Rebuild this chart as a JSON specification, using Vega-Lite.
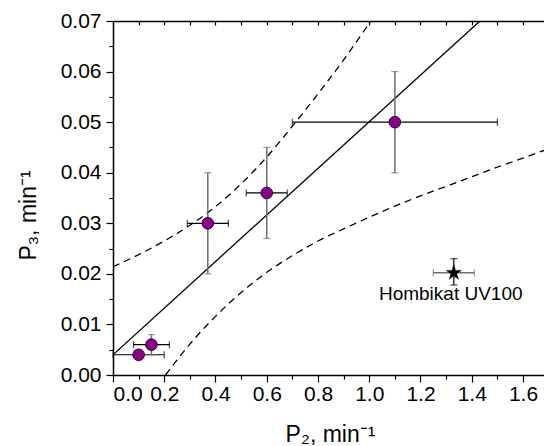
{
  "$schema": "https://vega.github.io/schema/vega-lite/v6.json",
  "width": 431,
  "height": 354,
  "autosize": {"type": "none"},
  "padding": {"left": 113, "top": 21, "right": 0, "bottom": 71},
  "background": "white",
  "config": {
    "view": {"stroke": null},
    "axis": {
      "grid": false,
      "domainColor": "black",
      "domainWidth": 1.5,
      "tickColor": "black",
      "tickWidth": 1.2,
      "labelFont": "Liberation Sans",
      "labelFontSize": 21,
      "labelColor": "black",
      "titleFont": "Liberation Sans",
      "titleFontSize": 23,
      "titleFontWeight": "normal",
      "titleColor": "black"
    }
  },
  "datasets": {
    "fit": [{"x": 0, "y": 0.004}, {"x": 1.432, "y": 0.07}],
    "upper": [
      {"x": 0.0, "y": 0.0214}, {"x": 0.1, "y": 0.0238}, {"x": 0.2, "y": 0.0265},
      {"x": 0.3, "y": 0.0296}, {"x": 0.4, "y": 0.0333}, {"x": 0.5, "y": 0.0378},
      {"x": 0.6, "y": 0.0431}, {"x": 0.7, "y": 0.0492}, {"x": 0.8, "y": 0.0556},
      {"x": 0.9, "y": 0.0623}, {"x": 1.0, "y": 0.0695}, {"x": 1.05, "y": 0.073}
    ],
    "lower": [
      {"x": 0.205, "y": 0.0}, {"x": 0.3, "y": 0.0061}, {"x": 0.4, "y": 0.0116},
      {"x": 0.5, "y": 0.0163}, {"x": 0.6, "y": 0.0203}, {"x": 0.7, "y": 0.0236},
      {"x": 0.8, "y": 0.0265}, {"x": 0.9, "y": 0.0289}, {"x": 1.0, "y": 0.0312},
      {"x": 1.1, "y": 0.0334}, {"x": 1.2, "y": 0.0354}, {"x": 1.3, "y": 0.0373},
      {"x": 1.4, "y": 0.0392}, {"x": 1.5, "y": 0.0411}, {"x": 1.6, "y": 0.0429},
      {"x": 1.682, "y": 0.0444}
    ],
    "pts": [
      {"x": 0.10, "y": 0.004, "xlo": 0.0, "xhi": 0.20, "ylo": 0.0032, "yhi": 0.0048},
      {"x": 0.15, "y": 0.006, "xlo": 0.08, "xhi": 0.22, "ylo": 0.004, "yhi": 0.008},
      {"x": 0.37, "y": 0.030, "xlo": 0.29, "xhi": 0.45, "ylo": 0.020, "yhi": 0.040},
      {"x": 0.60, "y": 0.036, "xlo": 0.52, "xhi": 0.68, "ylo": 0.027, "yhi": 0.045},
      {"x": 1.10, "y": 0.050, "xlo": 0.70, "xhi": 1.50, "ylo": 0.040, "yhi": 0.060}
    ],
    "star": [
      {"x": 1.33, "y": 0.0202, "xlo": 1.25, "xhi": 1.41, "ylo": 0.0178, "yhi": 0.023, "label": "Hombikat UV100", "ly": 0.0148, "lx": 1.318}
    ]
  },
  "resolve": {"axis": {"x": "independent", "y": "independent"}},
  "layer": [
    {
      "data": {"name": "fit"},
      "mark": {"type": "line", "color": "black", "strokeWidth": 1.3, "clip": true},
      "encoding": {
        "x": {"field": "x", "type": "quantitative", "scale": {"domain": [0, 1.682], "nice": false, "zero": false},
          "axis": {"orient": "bottom", "values": [0, 0.2, 0.4, 0.6, 0.8, 1.0, 1.2, 1.4, 1.6], "format": ".1f", "tickSize": 7, "labelPadding": 1,
            "title": "P₂, min⁻¹", "titleX": 217, "titleY": 66, "titleBaseline": "alphabetic", "titleAlign": "center"}},
        "y": {"field": "y", "type": "quantitative", "scale": {"domain": [0, 0.07], "nice": false, "zero": false},
          "axis": {"orient": "left", "values": [0, 0.01, 0.02, 0.03, 0.04, 0.05, 0.06, 0.07], "format": ".2f", "tickSize": 7, "labelPadding": 5,
            "title": "P₃, min⁻¹", "titleX": -78, "titleY": 194, "titleBaseline": "alphabetic", "titleAlign": "center", "titleAngle": -90}}
      }
    },
    {
      "data": {"name": "upper"},
      "mark": {"type": "line", "color": "black", "strokeWidth": 1.3, "strokeDash": [7, 5], "interpolate": "monotone", "clip": true},
      "encoding": {
        "x": {"field": "x", "type": "quantitative", "scale": {"domain": [0, 1.682], "nice": false, "zero": false},
          "axis": {"orient": "bottom", "values": [0.1, 0.3, 0.5, 0.7, 0.9, 1.1, 1.3, 1.5], "labels": false, "domain": false, "tickSize": 4, "title": null}},
        "y": {"field": "y", "type": "quantitative", "scale": {"domain": [0, 0.07], "nice": false, "zero": false},
          "axis": {"orient": "left", "values": [0.005, 0.015, 0.025, 0.035, 0.045, 0.055, 0.065], "labels": false, "domain": false, "tickSize": 4, "title": null}}
      }
    },
    {
      "data": {"name": "lower"},
      "mark": {"type": "line", "color": "black", "strokeWidth": 1.3, "strokeDash": [7, 5], "interpolate": "monotone", "clip": true},
      "encoding": {
        "x": {"field": "x", "type": "quantitative", "scale": {"domain": [0, 1.682], "nice": false, "zero": false},
          "axis": {"orient": "top", "values": [0.1, 0.2, 0.3, 0.4, 0.5, 0.6, 0.7, 0.8, 0.9, 1.0, 1.1, 1.2, 1.3, 1.4, 1.5, 1.6], "labels": false, "domain": true, "tickSize": -4, "title": null}},
        "y": {"field": "y", "type": "quantitative", "scale": {"domain": [0, 0.07], "nice": false, "zero": false}, "axis": null}
      }
    },
    {
      "data": {"name": "pts"},
      "mark": {"type": "errorbar", "ticks": {"size": 7, "color": "black", "thickness": 1.2}, "rule": {"color": "black", "strokeWidth": 1.2}},
      "encoding": {
        "x": {"field": "xlo", "type": "quantitative", "scale": {"domain": [0, 1.682], "nice": false, "zero": false}, "axis": null},
        "x2": {"field": "xhi"},
        "y": {"field": "y", "type": "quantitative", "scale": {"domain": [0, 0.07], "nice": false, "zero": false}, "axis": null}
      }
    },
    {
      "data": {"name": "pts"},
      "mark": {"type": "errorbar", "ticks": {"size": 7, "color": "#6e6e6e", "thickness": 1.2}, "rule": {"color": "#6e6e6e", "strokeWidth": 1.5}},
      "encoding": {
        "y": {"field": "ylo", "type": "quantitative", "scale": {"domain": [0, 0.07], "nice": false, "zero": false}, "axis": null},
        "y2": {"field": "yhi"},
        "x": {"field": "x", "type": "quantitative", "scale": {"domain": [0, 1.682], "nice": false, "zero": false}, "axis": null}
      }
    },
    {
      "data": {"name": "star"},
      "mark": {"type": "errorbar", "ticks": {"size": 7, "color": "#6e6e6e", "thickness": 1.2}, "rule": {"color": "#6e6e6e", "strokeWidth": 1.5}},
      "encoding": {
        "x": {"field": "xlo", "type": "quantitative", "scale": {"domain": [0, 1.682], "nice": false, "zero": false}, "axis": null},
        "x2": {"field": "xhi"},
        "y": {"field": "y", "type": "quantitative", "scale": {"domain": [0, 0.07], "nice": false, "zero": false}, "axis": null}
      }
    },
    {
      "data": {"name": "star"},
      "mark": {"type": "errorbar", "ticks": {"size": 7, "color": "black", "thickness": 1.2}, "rule": {"color": "black", "strokeWidth": 1.2}},
      "encoding": {
        "y": {"field": "ylo", "type": "quantitative", "scale": {"domain": [0, 0.07], "nice": false, "zero": false}, "axis": null},
        "y2": {"field": "yhi"},
        "x": {"field": "x", "type": "quantitative", "scale": {"domain": [0, 1.682], "nice": false, "zero": false}, "axis": null}
      }
    },
    {
      "data": {"name": "pts"},
      "mark": {"type": "point", "shape": "circle", "filled": true, "fill": "#8b008b", "stroke": "#2a002a", "strokeWidth": 1, "size": 135, "opacity": 1},
      "encoding": {
        "x": {"field": "x", "type": "quantitative", "scale": {"domain": [0, 1.682], "nice": false, "zero": false}, "axis": null},
        "y": {"field": "y", "type": "quantitative", "scale": {"domain": [0, 0.07], "nice": false, "zero": false}, "axis": null}
      }
    },
    {
      "data": {"name": "star"},
      "mark": {"type": "point", "shape": "M0,-1L0.2245,-0.309L0.951,-0.309L0.363,0.118L0.588,0.809L0,0.382L-0.588,0.809L-0.363,0.118L-0.951,-0.309L-0.2245,-0.309Z", "filled": true, "fill": "black", "stroke": "black", "strokeWidth": 0.5, "size": 250, "opacity": 1},
      "encoding": {
        "x": {"field": "x", "type": "quantitative", "scale": {"domain": [0, 1.682], "nice": false, "zero": false}, "axis": null},
        "y": {"field": "y", "type": "quantitative", "scale": {"domain": [0, 0.07], "nice": false, "zero": false}, "axis": null}
      }
    },
    {
      "data": {"name": "star"},
      "mark": {"type": "text", "font": "Liberation Sans", "fontSize": 19, "color": "black", "align": "center", "baseline": "alphabetic"},
      "encoding": {
        "x": {"field": "lx", "type": "quantitative", "scale": {"domain": [0, 1.682], "nice": false, "zero": false}, "axis": null},
        "y": {"field": "ly", "type": "quantitative", "scale": {"domain": [0, 0.07], "nice": false, "zero": false}, "axis": null},
        "text": {"field": "label"}
      }
    }
  ]
}
